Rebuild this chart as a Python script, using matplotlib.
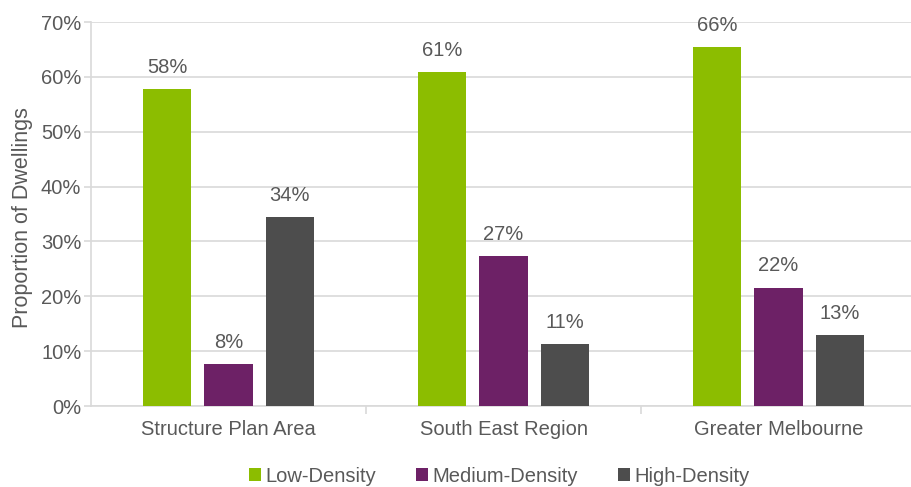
import matplotlib
matplotlib.use("Agg")
from matplotlib import pyplot as plt
import numpy as np

plt.rcParams['font.family'] = ['Liberation Sans', 'DejaVu Sans']

categories = ['Structure Plan Area', 'South East Region', 'Greater Melbourne']
series = ['Low-Density', 'Medium-Density', 'High-Density']
low = [57.8, 60.8, 65.5]
medium = [7.7, 27.3, 21.6]
high = [34.4, 11.3, 12.9]
colors = ['#8cbd00', '#6d2166', '#4d4d4d']

fig = plt.figure(figsize=(9.11, 4.87), dpi=100)
ax = fig.add_axes([91 / 911, (487 - 406) / 487, 825 / 911, 384 / 487])

x = np.arange(len(categories))
width = 0.175
step = 0.223
text_col = '#595959'
fs = 14.5
for i, (vals, name) in enumerate(zip([low, medium, high], series)):
    pos = x + (i - 1) * step
    bars = ax.bar(pos, vals, width, color=colors[i], label=name, zorder=3)
    for b, v in zip(bars, vals):
        ax.text(b.get_x() + b.get_width() / 2, v + 2.2, f'{round(v):.0f}%',
                ha='center', va='bottom', fontsize=fs, color=text_col)

ax.set_xlim(-0.5, 2.5)
ax.set_ylim(0, 70)
ax.set_yticks(range(0, 71, 10))
ax.set_yticklabels([f'{v}%' for v in range(0, 71, 10)])
ax.yaxis.grid(True, color='#d9d9d9', linewidth=1.2, zorder=0)
ax.set_xticks(x)
ax.set_xticklabels(categories)
ax.set_xticks([0.5, 1.5], minor=True)
ax.tick_params(axis='x', which='major', length=0, pad=10, labelsize=fs, labelcolor=text_col)
ax.tick_params(axis='x', which='minor', length=6, color='#d9d9d9', width=1.2)
ax.tick_params(axis='y', length=5, color='#d9d9d9', width=1.2, labelsize=fs,
               labelcolor=text_col, pad=2)
for s in ['top', 'right']:
    ax.spines[s].set_visible(False)
ax.spines['left'].set_color('#d9d9d9')
ax.spines['bottom'].set_color('#d9d9d9')
ax.spines['left'].set_linewidth(1.2)
ax.spines['bottom'].set_linewidth(1.2)

ax.set_ylabel('Proportion of Dwellings', fontsize=15.5, color=text_col)
ax.yaxis.set_label_coords(-0.07, 0.49)

fig.legend(loc='lower center', bbox_to_anchor=(0.548, -0.035), ncol=3, frameon=False,
           fontsize=fs, handlelength=0.6, handleheight=0.6, handletextpad=0.2,
           columnspacing=2.0, labelcolor=text_col)

fig.savefig('out.png', dpi=100)
